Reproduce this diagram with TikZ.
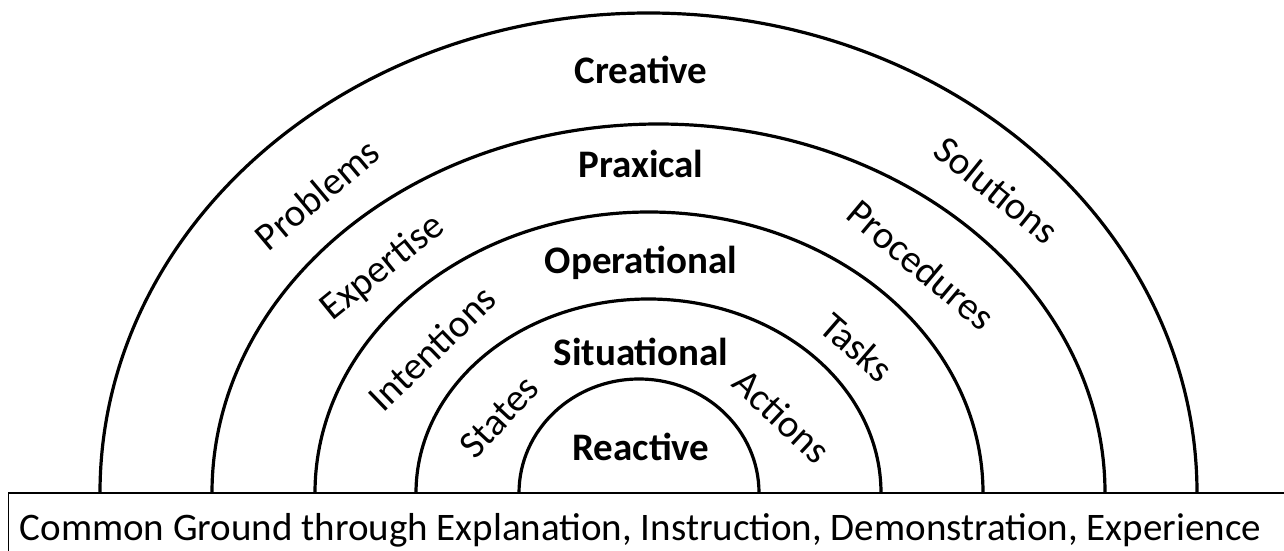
\documentclass[tikz,border=0pt]{standalone}
\usepackage{fontspec}
\setmainfont{Carlito}

\begin{document}
\begin{tikzpicture}[x=1pt,y=-1pt,
    arch/.style={line width=3.2pt},
    level/.style={font=\fontsize{39}{42}\selectfont\bfseries,anchor=base,inner sep=0pt},
    side/.style={font=\fontsize{39}{42}\selectfont,inner sep=0pt}]
      \useasboundingbox (0,0) rectangle (1284,551);
      \draw[arch] (100,493) arc[start angle=180,end angle=360,x radius=548.5,y radius=480];
      \draw[arch] (212,493) arc[start angle=180,end angle=360,x radius=446.5,y radius=369];
      \draw[arch] (315,493) arc[start angle=180,end angle=360,x radius=334,y radius=281];
      \draw[arch] (416,493) arc[start angle=180,end angle=360,x radius=232.5,y radius=194];
      \draw[arch] (519,493) arc[start angle=180,end angle=360,x radius=120,y radius=114];
      \draw[line width=1.6pt] (8.5,493) rectangle (1300,570);
      \node[level](creative) at (641,83){Creative};
      \node[level](praxical) at (641,177){Praxical};
      \node[level](operational) at (641,273){Operational};
      \node[level](situational) at (641,365){Situational};
      \node[level](reactive) at (641,460){Reactive};
      \node[side,rotate=40](problems) at (317,194){Problems};
      \node[side,rotate=39](expertise) at (383,268){Expertise};
      \node[side,rotate=44](intentions) at (432,348){Intentions};
      \node[side,rotate=47](states) at (499,417){States};
      \node[side,rotate=-39](solutions) at (997,190){Solutions};
      \node[side,rotate=-40](procedures) at (921,265){Procedures};
      \node[side,rotate=-41](tasks) at (857,347){Tasks};
      \node[side,rotate=-43](actions) at (782,416){Actions};
      \node[side,anchor=base](ground) at (640.5,540){Common Ground through Explanation, Instruction, Demonstration, Experience};
    \end{tikzpicture}
\end{document}
